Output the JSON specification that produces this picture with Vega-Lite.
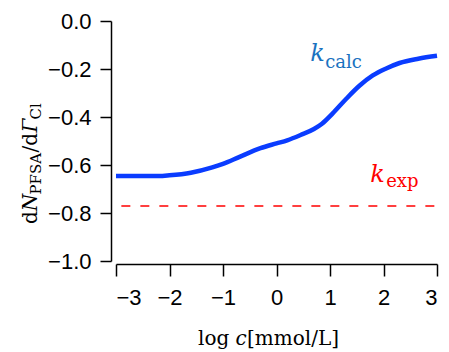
{
  "$schema": "https://vega.github.io/schema/vega-lite/v6.json",
  "width": 321,
  "height": 240,
  "autosize": "none",
  "padding": {"left": 116, "top": 21, "right": 12, "bottom": 91},
  "background": "white",
  "config": {
    "view": {"stroke": null},
    "axis": {
      "domainColor": "black", "domainWidth": 1.5, "tickColor": "black", "tickWidth": 1.5,
      "labelFont": "Liberation Sans", "labelFontSize": 22, "labelColor": "black", "grid": false, "title": null
    },
    "text": {"font": "DejaVu Serif"}
  },
  "datasets": {
    "calc": [
      {"logc": -3.0, "k": -0.646}, {"logc": -2.5, "k": -0.646}, {"logc": -2.2, "k": -0.646},
      {"logc": -2.0, "k": -0.643}, {"logc": -1.6, "k": -0.632}, {"logc": -1.2, "k": -0.61},
      {"logc": -1.0, "k": -0.595}, {"logc": -0.7, "k": -0.567}, {"logc": -0.3, "k": -0.53},
      {"logc": 0.0, "k": -0.51}, {"logc": 0.2, "k": -0.497}, {"logc": 0.45, "k": -0.475},
      {"logc": 0.7, "k": -0.45}, {"logc": 0.85, "k": -0.428}, {"logc": 1.05, "k": -0.385},
      {"logc": 1.3, "k": -0.325}, {"logc": 1.55, "k": -0.27}, {"logc": 1.8, "k": -0.227},
      {"logc": 2.05, "k": -0.198}, {"logc": 2.3, "k": -0.175}, {"logc": 2.65, "k": -0.157},
      {"logc": 3.0, "k": -0.145}
    ],
    "exp": [{"logc": -2.9, "k": -0.771}, {"logc": 3.0, "k": -0.771}],
    "labels": [
      {"logc": 0.63, "k": -0.167, "main": "k", "sub": "calc", "series": "calc"},
      {"logc": 1.75, "k": -0.671, "main": "k", "sub": "exp", "series": "exp"}
    ]
  },
  "layer": [
    {
      "data": {"name": "calc"},
      "mark": {"type": "line", "color": "#0a3cff", "strokeWidth": 4.5, "interpolate": "monotone"},
      "encoding": {
        "x": {"field": "logc", "type": "quantitative", "scale": {"domain": [-3, 3], "nice": false, "zero": false},
          "axis": {"values": [-3, -2, -1, 0, 1, 2, 3], "format": "d", "offset": 3, "tickSize": 12, "labelPadding": 11}},
        "y": {"field": "k", "type": "quantitative", "scale": {"domain": [-1, 0], "nice": false, "zero": false},
          "axis": {"values": [-1, -0.8, -0.6, -0.4, -0.2, 0], "format": ".1f", "offset": 5, "tickSize": 11, "labelPadding": 9}}
      }
    },
    {
      "data": {"name": "exp"},
      "mark": {"type": "line", "color": "#ff0000", "strokeWidth": 1.5, "strokeDash": [9, 10]},
      "encoding": {
        "x": {"field": "logc", "type": "quantitative"},
        "y": {"field": "k", "type": "quantitative"}
      }
    },
    {
      "data": {"name": "labels"},
      "transform": [{"filter": "datum.series === 'calc'"}],
      "layer": [
        {"mark": {"type": "text", "align": "left", "baseline": "alphabetic", "fontSize": 24, "fontStyle": "italic", "color": "#1a72c0"},
         "encoding": {"x": {"field": "logc", "type": "quantitative"}, "y": {"field": "k", "type": "quantitative"}, "text": {"field": "main"}}},
        {"mark": {"type": "text", "align": "left", "baseline": "alphabetic", "fontSize": 18, "dx": 15, "dy": 7, "color": "#1a72c0"},
         "encoding": {"x": {"field": "logc", "type": "quantitative"}, "y": {"field": "k", "type": "quantitative"}, "text": {"field": "sub"}}}
      ]
    },
    {
      "data": {"name": "labels"},
      "transform": [{"filter": "datum.series === 'exp'"}],
      "layer": [
        {"mark": {"type": "text", "align": "left", "baseline": "alphabetic", "fontSize": 24, "fontStyle": "italic", "color": "#ff0000"},
         "encoding": {"x": {"field": "logc", "type": "quantitative"}, "y": {"field": "k", "type": "quantitative"}, "text": {"field": "main"}}},
        {"mark": {"type": "text", "align": "left", "baseline": "alphabetic", "fontSize": 18, "dx": 16, "dy": 5, "color": "#ff0000"},
         "encoding": {"x": {"field": "logc", "type": "quantitative"}, "y": {"field": "k", "type": "quantitative"}, "text": {"field": "sub"}}}
      ]
    },
    {
      "data": {"values": [{}]},
      "encoding": {"x": {"datum": -3, "type": "quantitative"}, "y": {"datum": -0.8458, "type": "quantitative"}},
      "layer": [
        {"mark": {"type": "text", "angle": 270, "align": "left", "baseline": "alphabetic", "fontSize": 20, "dx": 0, "dy": -79, "color": "black"}, "encoding": {"text": {"value": "d"}}},
        {"mark": {"type": "text", "angle": 270, "align": "left", "baseline": "alphabetic", "fontSize": 20, "fontStyle": "italic", "dx": 12.8, "dy": -79, "color": "black"}, "encoding": {"text": {"value": "N"}}},
        {"mark": {"type": "text", "angle": 270, "align": "left", "baseline": "alphabetic", "fontSize": 15, "dx": 29.5, "dy": -75, "color": "black"}, "encoding": {"text": {"value": "PFSA"}}},
        {"mark": {"type": "text", "angle": 270, "align": "left", "baseline": "alphabetic", "fontSize": 20, "dx": 71.5, "dy": -79, "color": "black"}, "encoding": {"text": {"value": "/d"}}},
        {"mark": {"type": "text", "angle": 270, "align": "left", "baseline": "alphabetic", "fontSize": 20, "fontStyle": "italic", "dx": 91.5, "dy": -79, "color": "black"}, "encoding": {"text": {"value": "Γ"}}},
        {"mark": {"type": "text", "angle": 270, "align": "left", "baseline": "alphabetic", "fontSize": 15, "dx": 104.5, "dy": -75, "color": "black"}, "encoding": {"text": {"value": "Cl"}}}
      ]
    },
    {
      "data": {"values": [{}]},
      "encoding": {"x": {"datum": -3, "type": "quantitative"}, "y": {"datum": -1, "type": "quantitative"}},
      "layer": [
        {"mark": {"type": "text", "align": "left", "baseline": "alphabetic", "fontSize": 20, "dx": 82, "dy": 84, "color": "black"}, "encoding": {"text": {"value": "log"}}},
        {"mark": {"type": "text", "align": "left", "baseline": "alphabetic", "fontSize": 20, "fontStyle": "italic", "dx": 119.4, "dy": 84, "color": "black"}, "encoding": {"text": {"value": "c"}}},
        {"mark": {"type": "text", "align": "left", "baseline": "alphabetic", "fontSize": 20, "dx": 131, "dy": 84, "color": "black"}, "encoding": {"text": {"value": "[mmol/L]"}}}
      ]
    }
  ]
}
